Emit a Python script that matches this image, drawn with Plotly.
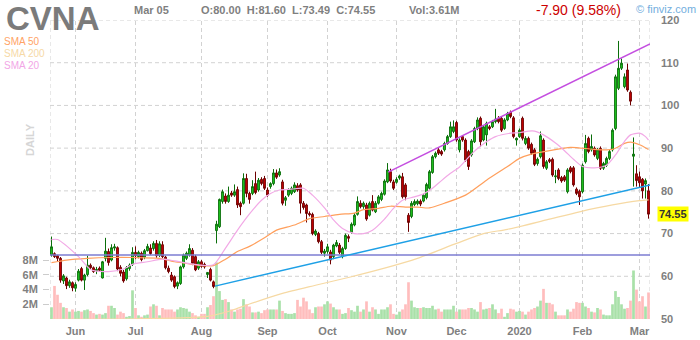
import plotly.graph_objects as go

# ---------------- data ----------------
opens = [65.0,65.3,64.8,64.2,58.9,59.6,57.8,58.5,57.2,59.1,
         61.8,59.1,60.4,62.6,62.0,61.3,61.9,59.6,64.2,65.8,
         63.8,66.6,66.7,62.1,61.0,59.4,61.8,62.8,65.6,64.6,
         65.4,64.5,66.0,66.6,66.5,67.7,64.9,67.4,64.5,61.9,
         60.3,59.9,57.7,58.3,62.2,64.2,65.0,66.1,64.6,61.9,
         63.4,62.8,60.4,61.6,58.7,70.7,71.6,77.5,78.8,77.5,
         79.5,79.0,80.3,77.1,77.1,82.9,79.4,79.4,81.7,80.2,
         82.7,82.9,80.2,81.0,81.7,84.2,83.7,82.1,77.8,79.0,
         79.4,79.8,81.2,81.4,77.1,76.7,74.7,74.5,69.8,70.0,
         68.1,65.4,65.8,65.7,64.6,67.1,67.3,64.6,66.5,69.3,
         70.3,72.0,74.5,77.1,76.3,76.7,74.3,77.5,75.1,77.1,
         78.0,79.2,82.1,84.5,82.1,82.0,83.0,83.3,81.4,74.3,
         74.0,76.8,77.0,77.6,77.6,78.4,80.6,84.3,88.0,89.6,
         89.2,89.6,91.1,92.7,93.9,96.0,89.6,92.7,91.9,89.2,
         88.4,91.5,94.6,97.0,91.9,93.1,95.0,95.0,96.2,97.0,
         97.0,94.6,96.6,98.4,97.1,91.9,92.7,97.0,91.1,92.3,
         90.9,89.6,86.4,88.0,91.9,85.3,87.3,87.4,83.3,84.9,
         83.1,83.3,79.8,85.4,85.4,80.4,79.9,79.8,86.8,92.3,
         89.6,90.0,87.6,89.96,85.3,86.0,87.6,89.6,94.6,104.0,
         108.7,104.4,108.3,103.1,88.1,84.0,83.3,82.7,81.6,80.0]
highs = [69.3,65.6,65.0,64.5,60.5,59.9,59.2,58.8,58.6,61.7,
         62.2,60.6,64.8,63.0,62.3,62.2,62.3,63.6,69.0,66.5,
         67.5,67.6,67.0,62.6,61.5,62.4,63.0,66.8,67.0,66.0,
         65.8,66.4,67.6,67.5,68.2,68.5,68.2,68.2,64.8,62.5,
         61.0,60.2,58.8,62.5,65.3,65.8,67.5,66.6,65.0,63.8,
         63.8,63.2,61.0,62.0,59.0,73.0,78.2,80.3,79.4,81.0,
         80.0,81.5,81.0,77.5,84.1,84.0,79.8,82.5,84.5,83.0,
         83.2,83.5,80.8,82.0,85.1,85.0,85.3,82.6,78.8,80.6,
         81.0,82.0,81.8,81.8,77.6,77.0,75.2,74.9,71.0,70.4,
         68.5,66.4,67.6,66.2,67.6,68.5,67.8,66.9,70.0,69.8,
         72.6,74.8,78.7,77.8,77.5,77.2,77.5,79.0,77.6,79.0,
         79.8,82.7,86.5,85.2,82.6,83.2,83.8,84.2,81.8,74.8,
         77.6,78.0,78.0,78.0,79.4,81.9,84.9,88.4,89.2,90.0,
         89.6,91.5,93.1,96.2,96.5,96.4,92.3,93.0,92.3,89.6,
         92.1,95.0,97.2,97.4,95.4,96.2,95.4,96.6,99.2,97.5,
         97.4,97.0,98.5,98.8,97.5,92.5,94.6,97.4,92.8,92.7,
         91.3,90.0,87.8,93.9,92.3,87.2,87.7,87.8,84.9,85.3,
         83.5,83.7,85.3,85.8,85.8,80.8,80.3,86.4,93.1,92.7,
         93.2,90.4,90.0,90.4,86.8,88.0,89.6,94.6,107.2,115.1,
         111.0,107.5,109.8,103.5,92.5,86.0,84.5,83.0,82.9,81.6]
lows = [64.6,64.3,63.5,58.5,58.2,57.0,57.3,56.5,56.4,58.8,
        58.8,56.8,60.0,61.5,60.8,60.5,61.0,59.5,63.5,62.5,
        63.5,66.0,61.2,60.0,58.5,59.0,61.3,62.4,64.0,64.2,
        63.5,64.0,65.8,65.0,66.0,64.3,64.5,64.2,61.6,60.7,
        58.7,57.2,57.0,58.0,61.8,63.8,64.6,62.6,61.2,61.5,
        62.0,61.8,59.6,58.8,57.2,67.7,71.3,77.0,77.0,77.2,
        78.6,78.6,76.0,74.3,76.8,78.5,77.0,79.0,79.2,79.8,
        81.3,80.2,78.6,80.5,81.3,82.8,83.3,76.6,76.5,78.6,
        79.0,79.5,79.8,74.7,75.6,72.6,74.0,69.6,69.4,67.7,
        65.2,64.6,65.3,62.8,64.0,66.8,65.2,64.2,66.2,68.0,
        70.0,71.7,74.2,75.9,75.8,73.0,74.0,75.2,74.8,76.8,
        77.6,78.9,81.8,81.9,80.2,81.7,82.6,78.2,77.8,70.4,
        73.6,76.4,76.6,76.4,77.3,78.0,80.3,84.0,87.6,88.4,
        88.2,89.2,90.8,92.4,93.5,91.5,89.0,91.5,86.8,84.9,
        88.0,91.2,94.2,90.3,91.6,90.6,94.2,94.7,95.8,95.8,
        93.8,94.3,96.3,97.0,92.3,90.6,92.4,91.8,90.7,89.6,
        88.4,85.8,85.9,87.6,85.2,84.9,86.5,83.3,81.8,82.5,
        81.9,82.1,79.4,84.1,81.0,79.0,76.7,79.4,86.4,88.8,
        89.2,88.0,87.2,84.9,84.9,85.6,87.2,89.2,94.2,103.6,
        108.3,104.0,103.2,100.0,81.0,81.0,80.9,78.2,78.2,73.49]
closes = [66.9,64.6,64.2,59.1,60.1,57.8,58.7,57.3,58.1,61.2,
          59.1,60.3,62.6,62.0,61.1,61.6,61.4,63.4,65.9,63.2,
          66.7,66.9,61.7,60.7,58.9,62.0,62.6,65.6,64.8,65.6,
          63.9,66.0,67.0,65.3,67.7,64.8,67.6,64.6,62.0,61.1,
          59.1,57.6,58.5,62.2,65.0,65.4,66.5,63.0,61.5,63.4,
          62.3,62.2,60.9,59.1,57.6,72.2,78.0,79.8,77.5,79.0,
          79.0,79.8,76.7,76.3,82.9,79.4,78.0,81.0,79.6,82.5,
          81.7,80.6,79.0,81.7,84.2,83.2,84.5,77.1,78.4,80.2,
          80.6,81.4,80.2,77.1,76.1,74.7,74.4,70.0,70.6,68.1,
          65.6,65.9,66.9,63.8,67.3,67.9,65.6,66.5,69.6,68.9,
          72.2,74.3,77.5,76.3,77.1,73.4,77.1,75.5,77.1,78.6,
          79.4,82.3,84.9,82.3,80.6,82.7,83.5,78.6,78.6,72.6,
          77.1,77.5,77.6,76.9,79.0,81.5,84.5,88.0,88.8,88.8,
          88.6,91.1,92.7,95.0,95.0,91.9,91.9,91.9,87.2,85.7,
          91.7,94.6,96.6,91.5,95.0,95.8,94.6,96.2,96.8,96.2,
          94.2,96.6,98.1,97.4,92.7,92.3,94.2,92.3,92.3,90.0,
          88.8,86.2,87.4,92.9,85.7,86.8,86.9,83.7,83.5,82.9,
          82.3,82.5,84.9,84.5,81.4,79.4,78.6,86.0,91.1,89.2,
          90.4,88.4,89.6,85.3,86.4,87.6,89.2,94.2,106.7,108.7,
          109.9,106.7,103.6,101.0,88.6,82.4,81.9,80.0,82.4,74.55]
volume_m = [1.6,4.5,3.3,2.2,1.6,1.5,1.0,1.3,1.0,1.1,
            1.0,1.2,1.3,1.1,0.8,0.6,0.7,0.6,0.8,1.8,
            1.8,1.5,0.6,1.0,0.8,0.3,0.4,3.9,1.5,0.5,
            0.3,0.5,0.6,1.7,2.0,1.8,0.5,1.5,1.3,1.3,
            1.3,1.0,1.3,1.6,1.5,1.4,1.0,0.8,0.5,0.3,
            0.7,0.7,1.6,1.9,3.1,7.7,3.8,2.6,2.7,2.3,
            1.3,1.0,1.3,1.4,2.7,2.0,1.7,0.9,0.9,1.0,
            0.8,1.2,1.3,1.3,1.3,1.3,2.5,1.1,0.8,0.7,
            0.7,0.8,2.6,1.7,2.9,2.4,1.3,0.8,1.6,1.7,
            1.7,2.0,2.4,2.1,1.6,1.3,1.3,0.7,0.8,1.5,
            1.2,1.0,1.8,1.0,1.3,2.4,1.0,1.6,1.3,0.7,
            1.3,1.3,1.6,2.0,0.7,0.6,1.0,1.3,2.0,5.0,
            2.5,1.6,1.5,1.5,1.6,1.5,1.5,1.8,1.3,1.4,
            1.0,1.3,1.3,1.3,1.8,1.0,1.3,1.3,1.3,1.5,
            1.5,1.3,1.0,2.3,1.3,1.4,1.5,2.0,1.3,0.8,
            1.4,0.3,0.8,1.4,1.3,1.0,1.1,1.0,0.6,1.0,
            1.3,1.5,1.7,2.5,4.1,2.2,2.2,2.0,1.0,0.5,
            0.5,0.5,1.3,1.0,1.4,2.3,2.2,2.2,1.7,1.5,
            1.0,0.9,1.5,1.3,0.6,0.5,0.5,2.0,3.8,3.0,
            2.0,1.4,1.5,2.5,6.6,4.0,2.4,3.1,1.7,3.61]

sma20_idx = [0,2,9,13,19,24,27,32,37,41,45,50,54,58,62,66,70,73,76,80,84,87,91,94,97,101,104,107,111,114,117,121,124,127,130,133,136,140,142,145,148,153,156,159,161,164,168,171,174,177,181,185,188,191,193,196,198,199]
sma20_val = [68.6,68.6,64.6,61.6,61.1,61.7,62.8,63.4,64.0,63.6,63.1,62.6,62.7,66.6,70.8,74.6,77.8,79.4,80.2,80.4,80.6,79.0,76.0,73.2,71.2,70.0,70.0,70.8,73.4,75.9,77.8,78.6,79.3,80.6,82.4,84.1,85.6,88.6,89.9,91.5,92.7,93.5,93.6,94.0,94.0,93.1,91.2,89.4,87.4,85.7,85.4,86.0,88.4,91.6,93.1,93.5,92.7,91.9]
sma50_idx = [0,5,12,20,27,36,41,45,50,54,58,62,66,71,75,81,86,91,96,101,104,109,113,118,122,126,131,138,145,152,156,160,166,173,181,187,191,193,196,199]
sma50_val = [63.2,63.8,64.2,64.4,64.4,64.2,63.4,63.0,62.5,62.5,64.0,65.8,67.0,69.0,70.8,72.0,73.5,74.0,74.5,74.8,75.6,75.9,76.4,76.2,76.2,76.0,77.1,79.0,82.5,85.7,87.6,88.6,89.4,90.2,89.7,89.7,91.1,91.4,90.8,89.7]
sma200_idx = [0,25,45,52,60,66,77,88,100,111,122,135,144,152,165,176,187,196,199]
sma200_val = [49.9,50.0,50.3,50.6,52.0,53.5,56.0,57.9,59.9,61.9,64.2,67.7,70.0,71.0,73.2,75.1,76.7,77.7,77.9]

hline_level = 65.0
up_trend_x = [54.5, 199.5]
up_trend_y = [57.7, 81.4]
ch_trend_x = [112.2, 199.5]
ch_trend_y = [84.4, 114.4]

month_idx = [8, 28, 50, 72, 92, 115, 135, 156, 177, 196]
month_lbl = ["Jun", "Jul", "Aug", "Sep", "Oct", "Nov", "Dec", "2020", "Feb", "Mar"]
price_ticks = [50, 60, 70, 80, 90, 100, 110, 120]
vol_ticks = [2, 4, 6, 8]
last_close = 74.55

# ---------------- layout helpers ----------------
W, H = 700, 340
ML, MR, MT, MB = 50, 50, 20, 21
PW, PH = W - ML - MR, H - MT - MB
def px_x(px):
    return (px - ML) / PW
def px_y(py):
    return (H - MB - py) / PH

n = len(closes)
idx = list(range(n))
vol_colors = ["#a9e1a9" if c >= o else "#ffbdbd" for o, c in zip(opens, closes)]

fig = go.Figure()
fig.add_trace(go.Bar(x=idx, y=volume_m, marker=dict(color=vol_colors, line=dict(width=0)),
                     yaxis="y", xaxis="x", hoverinfo="skip"))
for xs, ys, col in [(sma200_idx, sma200_val, "#f6d9a3"),
                    (sma50_idx, sma50_val, "#ff9f5c"),
                    (sma20_idx, sma20_val, "#f2a9e6")]:
    fig.add_trace(go.Scatter(x=xs, y=ys, mode="lines", yaxis="y2",
                             line=dict(color=col, width=1.2, shape="spline", smoothing=0.7),
                             hoverinfo="skip"))
fig.add_trace(go.Candlestick(x=idx, open=opens, high=highs, low=lows, close=closes,
                             yaxis="y2", whiskerwidth=0,
                             increasing=dict(line=dict(color="#0a6e0a", width=1), fillcolor="#22d422"),
                             decreasing=dict(line=dict(color="#6e0000", width=1), fillcolor="#d40000")))
fig.add_trace(go.Scatter(x=[-0.5, n - 0.5], y=[hline_level, hline_level], mode="lines", yaxis="y2",
                         line=dict(color="#7c7cd2", width=1.5), hoverinfo="skip"))
fig.add_trace(go.Scatter(x=up_trend_x, y=up_trend_y, mode="lines", yaxis="y2",
                         line=dict(color="#1ea0e6", width=1.5), hoverinfo="skip"))
fig.add_trace(go.Scatter(x=ch_trend_x, y=ch_trend_y, mode="lines", yaxis="y2",
                         line=dict(color="#c44ee0", width=1.5), hoverinfo="skip"))

grid = dict(color="#d2d2d2", width=1, dash="4px,3px")
shapes = []
for v in [-0.5] + month_idx + [n - 0.5]:
    shapes.append(dict(type="line", xref="x", yref="paper", x0=v, x1=v, y0=0, y1=1,
                       line=grid, layer="below"))
for p in price_ticks[1:]:
    shapes.append(dict(type="line", xref="paper", yref="y2", x0=0, x1=1, y0=p, y1=p,
                       line=grid, layer="below"))

gray = "#7f7f7f"
FONT = "Arial, Liberation Sans, sans-serif"
ann = []
def txt(text, px, py, size, color, bold=False, anchor="left", **kw):
    t = "<b>%s</b>" % text if bold else text
    ann.append(dict(text=t, x=px_x(px), y=px_y(py), xref="paper", yref="paper",
                    xanchor=anchor, yanchor="middle", showarrow=False, borderpad=0,
                    font=dict(family=FONT, size=size, color=color), **kw))

txt("CVNA", 5, 18, 33, "#7b7b7b", bold=True)
txt("Mar 05", 133, 10, 11, gray, bold=True)
txt("O:80.00&nbsp;&nbsp;H:81.60&nbsp;&nbsp;L:73.49&nbsp;&nbsp;C:74.55", 200, 10, 11, gray, bold=True)
txt("Vol:3.61M", 408, 10, 11, gray, bold=True)
txt("-7.90 (9.58%)", 535, 10, 14, "#cc0000")
txt("© finviz.com", 635, 9, 11, "#72aede")
txt("SMA 50", 3, 42, 10, "#ffa366")
txt("SMA 200", 3, 53.5, 10, "#f6d9a6")
txt("SMA 20", 3, 65, 10, "#f2a6e6")
txt("DAILY", 30, 140, 11, "#d6d6d6", bold=True, anchor="center", textangle=-90)
ann.append(dict(text="<b>74.55</b>", x=px_x(657), y=last_close, xref="paper", yref="y2",
                xanchor="left", yanchor="middle", showarrow=False, bgcolor="#ffff00",
                borderpad=1, font=dict(family=FONT, size=11, color="#333333")))

fig.update_layout(
    width=W, height=H, autosize=False,
    margin=dict(l=ML, r=MR, t=MT, b=MB, pad=0),
    paper_bgcolor="white", plot_bgcolor="white",
    showlegend=False, bargap=0.1, boxgap=0.15,
    font=dict(family=FONT),
    xaxis=dict(range=[-0.5, n - 0.5], tickvals=month_idx, ticktext=month_lbl, automargin=False,
               showgrid=False, zeroline=False, showline=False, ticks="", ticklabelstandoff=4,
               tickfont=dict(family=FONT, size=11, color=gray, weight="bold"),
               rangeslider=dict(visible=False), fixedrange=True),
    yaxis=dict(range=[0, PH / 7.35], tickvals=vol_ticks, ticktext=["%dM" % v for v in vol_ticks],
               side="left", showgrid=False, zeroline=False, showline=False, automargin=False,
               ticks="outside", ticklen=6, tickcolor="#cccccc", ticklabelstandoff=3,
               tickfont=dict(family=FONT, size=11, color=gray, weight="bold")),
    yaxis2=dict(range=[50, 120], tickvals=price_ticks, overlaying="y", side="right",
                showgrid=False, zeroline=False, showline=False, ticks="", ticklabelstandoff=10,
                automargin=False,
                tickfont=dict(family=FONT, size=11, color=gray, weight="bold")),
    shapes=shapes, annotations=ann,
)
fig.write_html("out.html")
